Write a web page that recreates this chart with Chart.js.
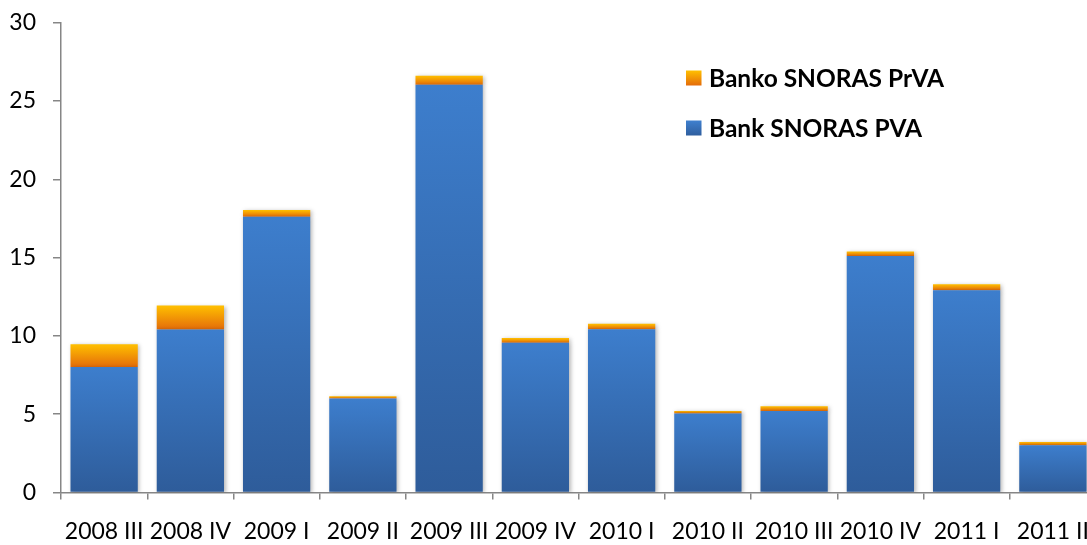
<!DOCTYPE html>
<html>
<head>
<meta charset="utf-8">
<script src="https://cdn.jsdelivr.net/npm/chart.js@4"></script>
<style>
html,body{margin:0;padding:0;background:#fff;overflow:hidden;}
#wrap{position:absolute;left:0;top:0;width:1100px;height:545px;}
</style>
</head>
<body>
<div id="wrap"><canvas id="c" width="1100" height="545"></canvas></div>
<script>
const categories = ["2008 III","2008 IV","2009 I","2009 II","2009 III","2009 IV","2010 I","2010 II","2010 III","2010 IV","2011 I","2011 II"];
const pvaValues  = [8.02, 10.41, 17.61, 6.0, 26.03, 9.56, 10.43, 5.05, 5.21, 15.11, 12.92, 3.02];
const prvaValues = [1.45, 1.53, 0.43, 0.15, 0.59, 0.30, 0.34, 0.16, 0.30, 0.28, 0.38, 0.21];
const seriesLabels = ["Bank SNORAS PVA", "Banko SNORAS PrVA"];
const yTicks = [0, 5, 10, 15, 20, 25, 30];

const FONT = "Lato";

function barGradient(context, baseFn, topFn, colTop, colBot) {
  const chart = context.chart;
  if (!chart.chartArea || !chart.scales.y) return colTop;
  const i = context.dataIndex;
  const y = chart.scales.y;
  const yTop = y.getPixelForValue(topFn(i)), yBase = y.getPixelForValue(baseFn(i));
  if (!isFinite(yTop) || !isFinite(yBase) || yTop === yBase) return colTop;
  const g = chart.ctx.createLinearGradient(0, yTop, 0, yBase);
  g.addColorStop(0, colTop);
  g.addColorStop(1, colBot);
  return g;
}

const shadowPlugin = {
  id: 'shadow',
  beforeDatasetDraw(chart) {
    const c = chart.ctx;
    c.save();
    c.shadowColor = 'rgba(0,0,0,0.28)';
    c.shadowBlur = 4;
    c.shadowOffsetX = 1.5;
    c.shadowOffsetY = 1;
  },
  afterDatasetDraw(chart) { chart.ctx.restore(); }
};

const legendPlugin = {
  id: 'inlegend',
  afterDraw(chart) {
    const c = chart.ctx;
    const items = [
      {label: seriesLabels[1], top: '#FFC000', bot: '#E46C0A', y: 78},
      {label: seriesLabels[0], top: '#3F80CF', bot: '#2F5E9E', y: 128}
    ];
    c.save();
    c.font = "bold 24.5px " + FONT;
    c.textBaseline = 'middle';
    items.forEach(it => {
      const g = c.createLinearGradient(0, it.y - 7.5, 0, it.y + 7.5);
      g.addColorStop(0, it.top); g.addColorStop(1, it.bot);
      c.fillStyle = g;
      c.fillRect(686, it.y - 7.5, 15.5, 15);
      c.fillStyle = '#000';
      c.fillText(it.label, 709, it.y + 1);
    });
    c.restore();
  }
};

new Chart(document.getElementById('c'), {
  type: 'bar',
  data: {
    labels: categories,
    datasets: [
      {
        label: seriesLabels[0],
        data: pvaValues,
        backgroundColor: (ctx) => barGradient(ctx, i => 0, i => pvaValues[i], '#3D7ECD', '#2E5C9A'),
        borderWidth: 0,
        barPercentage: 0.78,
        categoryPercentage: 1.0
      },
      {
        label: seriesLabels[1],
        data: prvaValues,
        backgroundColor: (ctx) => barGradient(ctx, i => pvaValues[i], i => pvaValues[i] + prvaValues[i], '#FFC000', '#E46C0A'),
        borderWidth: 0,
        barPercentage: 0.78,
        categoryPercentage: 1.0
      }
    ]
  },
  options: {
    responsive: false,
    animation: false,
    devicePixelRatio: 1,
    layout: { padding: { left: 0, right: 4, top: 22.7, bottom: 0 } },
    plugins: { legend: { display: false }, tooltip: { enabled: false } },
    scales: {
      x: {
        stacked: true,
        border: { display: true, color: '#868686', width: 1.5 },
        grid: { drawOnChartArea: false, drawTicks: true, tickLength: 7, color: '#868686', lineWidth: 1.5, offset: true },
        ticks: { color: '#000', font: { family: FONT, size: 23 }, padding: 18, maxRotation: 0, autoSkip: false },
        afterFit: (s) => { s.height = 52.5; s.paddingLeft = 0; s.paddingRight = 0; }
      },
      y: {
        stacked: true,
        min: 0, max: 30,
        afterBuildTicks: (s) => { s.ticks = yTicks.map(v => ({value: v})); },
        border: { display: true, color: '#868686', width: 1.5 },
        grid: { drawOnChartArea: false, drawTicks: true, tickLength: 8, color: '#868686', lineWidth: 1.5 },
        ticks: { color: '#000', font: { family: FONT, size: 23 }, padding: 17 },
        afterFit: (s) => { s.width = 61; s.paddingTop = 0; s.paddingBottom = 0; }
      }
    }
  },
  plugins: [shadowPlugin, legendPlugin]
});
</script>
</body>
</html>
